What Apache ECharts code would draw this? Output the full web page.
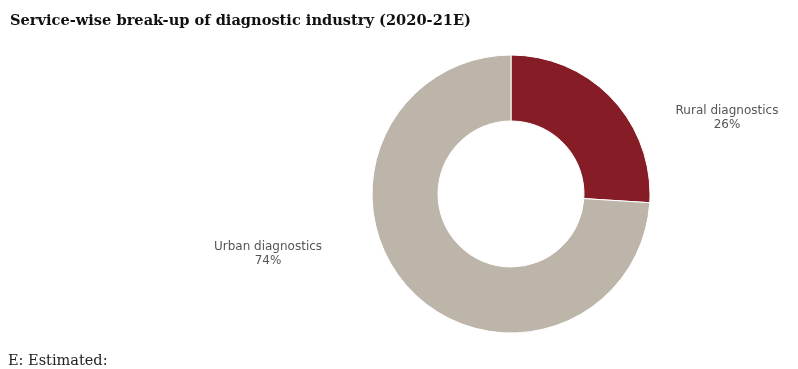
<!DOCTYPE html>
<html>
<head>
<meta charset="utf-8">
<script src="https://cdn.jsdelivr.net/npm/echarts@6/dist/echarts.min.js"></script>
<style>html,body{margin:0;padding:0;background:#fff;}#c{width:798px;height:369px;}</style>
</head>
<body>
<div id="c"></div>
<script>
const categories = ['Rural diagnostics', 'Urban diagnostics'];
const shares = [26, 74];
const colors = ['#861C26', '#BDB5AA'];
const titleText = 'Service-wise break-up of diagnostic industry (2020-21E)';
const footnote = 'E: Estimated:';

const chart = echarts.init(document.getElementById('c'));
const labelPos = [
  {x: 727, y: 118},
  {x: 268, y: 254}
];
chart.setOption({
  animation: false,
  title: [{
    text: titleText, left: 5, top: 9,
    textStyle: {fontFamily: 'DejaVu Serif', fontWeight: 'bold', fontSize: 14.6, color: '#111'}
  }, {
    text: footnote, left: 3, top: 349,
    textStyle: {fontFamily: 'DejaVu Serif', fontWeight: 'normal', fontSize: 14.5, color: '#222'}
  }],
  series: [{
    type: 'pie',
    center: [511, 194],
    radius: [73, 139],
    startAngle: 90,
    clockwise: true,
    itemStyle: {borderColor: '#fff', borderWidth: 1},
    label: {
      show: true, position: 'outside',
      formatter: '{b}\n{c}%',
      fontFamily: 'DejaVu Sans', fontSize: 12, color: '#555', lineHeight: 14, align: 'center'
    },
    labelLine: {show: false},
    labelLayout: function (p) {
      const l = labelPos[p.dataIndex];
      return {x: l.x, y: l.y, align: 'center', verticalAlign: 'middle'};
    },
    data: categories.map((c, i) => ({name: c, value: shares[i], itemStyle: {color: colors[i]}}))
  }]
});
</script>
</body>
</html>
